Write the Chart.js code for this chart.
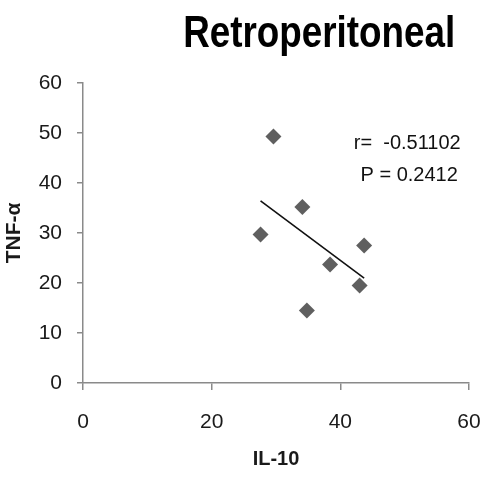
<!DOCTYPE html>
<html>
<head>
<meta charset="utf-8">
<script src="https://cdn.jsdelivr.net/npm/chart.js@4/dist/chart.umd.min.js"></script>
<style>
  html, body { margin: 0; padding: 0; background: #fff; }
  #wrap { width: 482px; height: 477px; }
</style>
</head>
<body>
<div id="wrap"><canvas id="chart" width="482" height="477"></canvas></div>
<script>
// Values
const il10 = [27.6, 29.6, 34.1, 34.8, 38.4, 43.0, 43.7]
const tnfAlpha = [29.7, 49.3, 35.2, 14.5, 23.7, 19.5, 27.5]
const xRange = [0, 60]
const yRange = [0, 60]
const statLines = ['r=  -0.51102', 'P = 0.2412']
const chartTitle = 'Retroperitoneal'

const FONT = "'Liberation Sans', Arial, sans-serif"

const points = il10.map((x, i) => ({ x: x, y: tnfAlpha[i] }))

// least squares trend line over the observed x range
function trendLine (xs, ys) {
  const n = xs.length
  const mx = xs.reduce((a, b) => a + b, 0) / n
  const my = ys.reduce((a, b) => a + b, 0) / n
  let sxy = 0
  let sxx = 0
  for (let i = 0; i < n; i++) {
    sxy += (xs[i] - mx) * (ys[i] - my)
    sxx += (xs[i] - mx) * (xs[i] - mx)
  }
  const slope = sxy / sxx
  const x0 = Math.min(...xs)
  const x1 = Math.max(...xs)
  return [
    { x: x0, y: my + slope * (x0 - mx) },
    { x: x1, y: my + slope * (x1 - mx) }
  ]
}

// draw text squeezed sideways, the original uses a narrow face
function narrowText (ctx, text, cx, cy, squeeze) {
  ctx.save()
  ctx.translate(cx, cy)
  ctx.scale(squeeze, 1)
  ctx.fillText(text, 0, 0)
  ctx.restore()
}

// title and r / P annotation
const textPlugin = {
  id: 'texts',
  afterDraw (chart) {
    const { ctx, chartArea, scales } = chart
    ctx.save()
    ctx.fillStyle = '#000'
    ctx.textAlign = 'center'
    ctx.textBaseline = 'alphabetic'
    ctx.font = `bold 44px ${FONT}`
    const w = ctx.measureText(chartTitle).width
    narrowText(ctx, chartTitle, chartArea.left + (chartArea.right - chartArea.left) * 0.612, 47, 272 / w)

    ctx.fillStyle = '#111'
    ctx.font = `20px ${FONT}`
    ctx.textBaseline = 'middle'
    narrowText(ctx, statLines[0], scales.x.getPixelForValue(50.4), scales.y.getPixelForValue(48), 1)
    narrowText(ctx, statLines[1], scales.x.getPixelForValue(50.7), scales.y.getPixelForValue(41.6), 1)
    ctx.restore()
  }
}

new Chart(document.getElementById('chart'), {
  type: 'scatter',
  data: {
    datasets: [
      {
        label: 'TNF-α',
        data: points,
        pointStyle: 'rectRot',
        pointRadius: 8,
        pointHoverRadius: 8,
        backgroundColor: '#5f5f5f',
        borderColor: '#5f5f5f',
        borderWidth: 0
      },
      {
        type: 'line',
        label: 'trend',
        data: trendLine(il10, tnfAlpha),
        borderColor: '#111',
        borderWidth: 1.6,
        pointRadius: 0,
        fill: false
      }
    ]
  },
  options: {
    responsive: false,
    animation: false,
    layout: {
      padding: { top: 83, right: 13, left: 0, bottom: 0 }
    },
    plugins: {
      legend: { display: false },
      tooltip: { enabled: false }
    },
    scales: {
      x: {
        type: 'linear',
        min: xRange[0],
        max: xRange[1],
        afterFit: (scale) => {
          scale.height = 94
          scale.paddingLeft = 0
          scale.paddingRight = 0
        },
        border: { color: '#8a8a8a', width: 1.5 },
        grid: { drawOnChartArea: false, tickLength: 7, color: '#8a8a8a', lineWidth: 1.5 },
        ticks: {
          stepSize: 20,
          padding: 20,
          color: '#1a1a1a',
          font: { family: FONT, size: 21 }
        },
        title: {
          display: true,
          text: 'IL-10',
          color: '#1a1a1a',
          font: { family: FONT, size: 20, weight: 'bold' },
          padding: { top: 0, bottom: 6 }
        }
      },
      y: {
        type: 'linear',
        min: yRange[0],
        max: yRange[1],
        afterFit: (scale) => {
          scale.width = 83
          scale.paddingTop = 0
          scale.paddingBottom = 0
        },
        border: { color: '#8a8a8a', width: 1.5 },
        grid: { drawOnChartArea: false, tickLength: 6, color: '#8a8a8a', lineWidth: 1.5 },
        ticks: {
          stepSize: 10,
          padding: 15,
          color: '#1a1a1a',
          font: { family: FONT, size: 21 }
        },
        title: {
          display: true,
          text: 'TNF-α',
          color: '#1a1a1a',
          font: { family: FONT, size: 21, weight: 'bold' },
          padding: { top: 2, bottom: 0 }
        }
      }
    }
  },
  plugins: [textPlugin]
})
</script>
</body>
</html>
